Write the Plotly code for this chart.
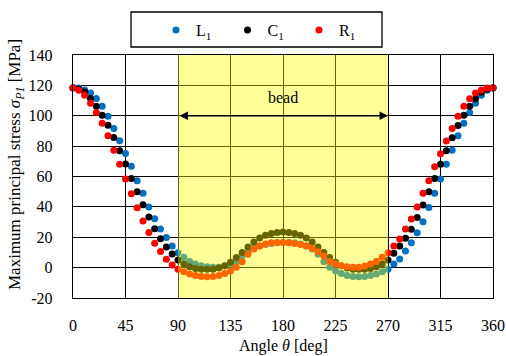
import plotly.graph_objects as go

angles = list(range(0, 361, 5))

L1 = [118.5, 118.2, 117.0, 115.0, 111.3, 106.3, 99.7, 91.6, 83.5, 75.2,
      66.8, 57.2, 48.9, 40.0, 32.2, 25.5, 19.8, 14.2, 9.8, 6.8,
      4.0, 2.4, 1.2, 0.5, 0.2, 0.3, 1.1, 2.4, 4.0, 7.6,
      10.5, 12.7, 14.2, 15.2, 15.9, 16.4, 16.6, 16.6, 16.3, 15.5,
      14.2, 12.2, 8.8, 3.8, 0.2, -2.2, -3.8, -5.2, -5.8, -6.0,
      -5.8, -5.2, -4.2, -2.7, -1.1, 2.4, 5.7, 10.9, 16.4, 23.0,
      30.2, 39.6, 48.9, 58.3, 68.1, 77.3, 86.8, 95.0, 102.2, 108.2,
      113.5, 116.8, 118.5]

C1 = [118.2, 117.5, 115.7, 111.3, 106.3, 100.4, 93.8, 85.7, 76.9, 68.3,
      58.7, 49.9, 41.4, 33.3, 25.6, 19.0, 13.5, 8.9, 5.0, 2.4,
      0.6, -0.5, -1.1, -1.1, -1.1, -0.3, 1.3, 3.6, 6.6, 10.0,
      13.6, 16.8, 19.5, 21.3, 22.5, 23.2, 23.4, 23.2, 22.5, 21.3,
      19.5, 16.8, 13.6, 10.0, 6.6, 3.6, 1.3, -0.3, -1.1, -1.1,
      -1.1, -0.5, 0.6, 2.4, 5.0, 9.4, 14.2, 19.3, 25.2, 33.0,
      41.2, 49.9, 58.7, 68.1, 77.0, 85.5, 93.6, 100.3, 106.2, 111.2,
      115.5, 117.6, 118.2]

R1 = [118.5, 116.8, 113.5, 108.2, 102.2, 95.0, 86.8, 77.3, 68.0, 58.3,
      48.7, 39.5, 30.7, 23.1, 16.1, 10.6, 5.5, 1.8, -1.1, -2.7,
      -4.2, -5.2, -5.8, -6.0, -5.8, -5.2, -3.8, -2.2, 0.2, 3.8,
      8.8, 12.2, 14.2, 15.5, 16.3, 16.6, 16.6, 16.4, 15.9, 15.2,
      14.2, 12.7, 10.5, 7.6, 4.0, 2.4, 1.3, 0.6, 0.2, 0.2,
      1.1, 2.4, 4.0, 6.8, 9.8, 14.2, 18.8, 25.4, 32.0, 40.0,
      48.9, 57.2, 66.4, 75.0, 83.4, 91.6, 99.6, 106.2, 111.2, 115.0,
      117.0, 118.2, 118.5]

x_ticks = [0, 45, 90, 135, 180, 225, 270, 315, 360]
y_ticks = [-20, 0, 20, 40, 60, 80, 100, 120, 140]

series = [("L<sub>1</sub>", L1, "#0070C0"),
          ("C<sub>1</sub>", C1, "#000000"),
          ("R<sub>1</sub>", R1, "#FF0000")]

FONT = "Liberation Serif"
fig = go.Figure()
for name, vals, col in series:
    fig.add_trace(go.Scatter(x=angles, y=vals, mode="markers", name=name,
                             marker=dict(size=7, color=col, line=dict(width=0)),
                             cliponaxis=False))

W, H = 506, 356
ml, mr, mt, mb = 73, 13, 55, 58
pw, ph = W - ml - mr, H - mt - mb

def px(xw):
    return (xw - ml) / pw

def py(yw):
    return (H - mb - yw) / ph

fig.add_shape(type="rect", xref="x", yref="y", x0=90, x1=270, y0=-20, y1=140,
              fillcolor="rgba(255,255,0,0.4)", line=dict(width=0), layer="above")
fig.add_shape(type="rect", xref="paper", yref="paper",
              x0=px(131), x1=px(382), y0=py(47), y1=py(12),
              fillcolor="white", line=dict(color="black", width=1.3), layer="below")

fig.add_annotation(x=270, y=100, ax=90, ay=100, xref="x", yref="y",
                   axref="x", ayref="y", text="", showarrow=True,
                   arrowhead=2, arrowside="end+start", arrowsize=1.3,
                   arrowwidth=1.3, arrowcolor="black")
fig.add_annotation(x=180, y=112, xref="x", yref="y", text="bead", showarrow=False,
                   font=dict(family=FONT, size=16, color="black"))
fig.add_annotation(x=px(16), y=py(165), xref="paper", yref="paper",
                   xanchor="center", yanchor="middle",
                   text="Maximum principal stress <i>σ<sub>P1</sub></i> [MPa]",
                   textangle=-90, showarrow=False,
                   font=dict(family=FONT, size=17, color="black"))
fig.add_annotation(x=px(283), y=py(346), xref="paper", yref="paper",
                   xanchor="center", yanchor="middle",
                   text="Angle <i>θ</i> [deg]", showarrow=False,
                   font=dict(family=FONT, size=16, color="black"))

fig.update_layout(
    width=W, height=H,
    margin=dict(l=ml, r=mr, t=mt, b=mb, autoexpand=False),
    paper_bgcolor="white", plot_bgcolor="white",
    font=dict(family=FONT, size=16, color="black"),
    showlegend=True,
    legend=dict(orientation="h", x=px(156), xanchor="left", y=py(30), yanchor="middle",
                bgcolor="rgba(0,0,0,0)", borderwidth=0, entrywidth=26.5,
                entrywidthmode="pixels", font=dict(family=FONT, size=16),
                itemsizing="trace"),
)
fig.update_xaxes(range=[0, 360], tickvals=x_ticks, ticktext=[str(v) for v in x_ticks],
                 showgrid=True, gridcolor="black", gridwidth=1,
                 showline=True, linecolor="black", linewidth=1.3, mirror=True,
                 zeroline=False, ticks="", ticklabelstandoff=12, automargin=False,
                 ticklabeloverflow="allow")
fig.update_yaxes(range=[-20, 140], tickvals=y_ticks, ticktext=[str(v) for v in y_ticks],
                 showgrid=True, gridcolor="black", gridwidth=1,
                 showline=True, linecolor="black", linewidth=1.3, mirror=True,
                 zeroline=False, ticks="", ticklabelstandoff=16, automargin=False)

fig.write_html("out.html",
               config={"displayModeBar": False, "staticPlot": True},
               post_script="document.body.style.margin='0px';"
                           "document.body.style.overflow='hidden';")
